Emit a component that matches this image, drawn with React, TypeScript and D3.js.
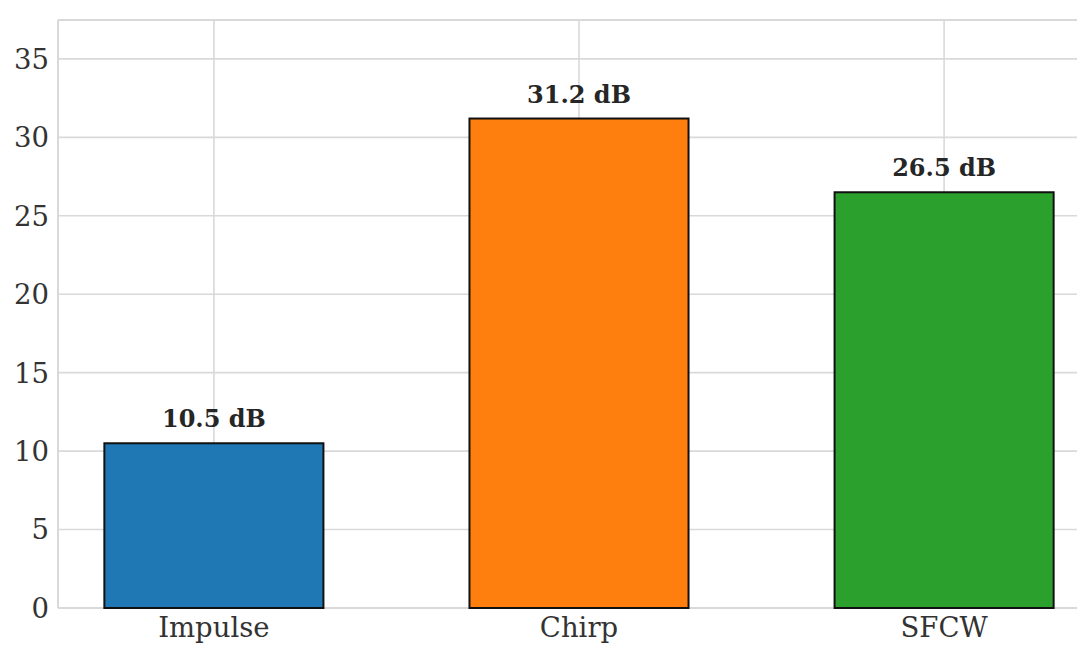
import { useEffect, useRef } from "react";
import * as d3 from "d3";

const categories = ["Impulse", "Chirp", "SFCW"];
const values = [10.5, 31.2, 26.5];
const colors = ["#1f77b4", "#ff7f0e", "#2ca02c"];
const yTicks = [0, 5, 10, 15, 20, 25, 30, 35];

const WIDTH = 1088;
const HEIGHT = 655;
const FONT = "'DejaVu Serif', serif";

export default function App() {
  const svgRef = useRef<SVGSVGElement>(null);

  useEffect(() => {
    const svg = d3.select(svgRef.current);
    svg.selectAll("*").remove();

    const left = 58, right = 1077, top = 20, bottom = 608;

    // bar centres sit at 0, 1, 2; the figure is cut a bit short on the right
    const x = d3.scaleLinear().domain([-0.427, 2.364]).range([left, right]);
    const y = d3.scaleLinear().domain([0, 37.48]).range([bottom, top]);
    const barW = x(0.6) - x(0);

    const grid = "#d9d9d9";

    // grid
    svg.append("g").selectAll("line").data(yTicks).enter().append("line")
      .attr("x1", left).attr("x2", right)
      .attr("y1", d => y(d)).attr("y2", d => y(d))
      .attr("stroke", grid).attr("stroke-width", 1.6);

    svg.append("g").selectAll("line").data(categories).enter().append("line")
      .attr("x1", (_, i) => x(i)).attr("x2", (_, i) => x(i))
      .attr("y1", top).attr("y2", bottom)
      .attr("stroke", grid).attr("stroke-width", 1.6);

    // spines
    svg.append("line").attr("x1", left).attr("x2", right).attr("y1", top).attr("y2", top)
      .attr("stroke", grid).attr("stroke-width", 2);
    svg.append("line").attr("x1", left).attr("x2", left).attr("y1", top).attr("y2", bottom)
      .attr("stroke", grid).attr("stroke-width", 2);
    svg.append("line").attr("x1", left).attr("x2", right).attr("y1", bottom).attr("y2", bottom)
      .attr("stroke", grid).attr("stroke-width", 2);

    // bars
    svg.append("g").selectAll("rect").data(values).enter().append("rect")
      .attr("x", (_, i) => x(i) - barW / 2)
      .attr("y", d => y(d))
      .attr("width", barW)
      .attr("height", d => y(0) - y(d))
      .attr("fill", (_, i) => colors[i])
      .attr("stroke", "#111")
      .attr("stroke-width", 2);

    // value labels
    svg.append("g").selectAll("text").data(values).enter().append("text")
      .attr("x", (_, i) => x(i))
      .attr("y", d => y(d) - 16)
      .attr("text-anchor", "middle")
      .attr("font-family", FONT).attr("font-weight", "bold").attr("font-size", 24)
      .attr("fill", "#262626")
      .text(d => `${d.toFixed(1)} dB`);

    // y tick labels
    svg.append("g").selectAll("text").data(yTicks).enter().append("text")
      .attr("x", left - 9)
      .attr("y", d => y(d))
      .attr("dy", "0.36em")
      .attr("text-anchor", "end")
      .attr("font-family", FONT).attr("font-size", 27.5)
      .attr("fill", "#333")
      .text(d => d);

    // x tick labels
    svg.append("g").selectAll("text").data(categories).enter().append("text")
      .attr("x", (_, i) => x(i))
      .attr("y", bottom + 29)
      .attr("text-anchor", "middle")
      .attr("font-family", FONT).attr("font-size", 27.5)
      .attr("fill", "#333")
      .text(d => d);
  }, []);

  return (
    <svg
      ref={svgRef}
      width={WIDTH}
      height={HEIGHT}
      style={{ display: "block", position: "absolute", left: 0, top: 0, background: "#fff" }}
    />
  );
}
